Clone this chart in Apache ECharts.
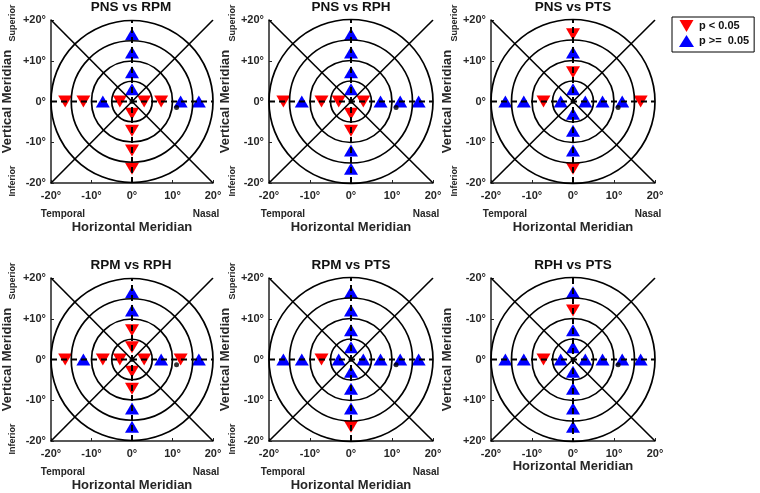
<!DOCTYPE html>
<html><head><meta charset="utf-8">
<script src="https://cdn.jsdelivr.net/npm/echarts@6/dist/echarts.min.js"></script>
<style>html,body{margin:0;padding:0;background:#fff}#c{width:760px;height:493px}</style>
</head><body><div id="c"></div>
<script>
// ---------------- data ----------------
const titles = ['PNS vs RPM', 'PNS vs RPH', 'PNS vs PTS', 'RPM vs RPH', 'RPM vs PTS', 'RPH vs PTS'];
const xPositions = [-16.5, -12, -7.2, -3, 3, 7.2, 12, 16.5];   // horizontal meridian test points
const yPositions = [16.5, 12, 7.2, 3, -3, -7.2, -12, -16.5];   // vertical meridian test points
// 1 = p < 0.05 (red), 0 = p >= 0.05 (blue)
const sigH1 = [1, 1, 0, 1, 1, 1, 0, 0], sigV1 = [0, 0, 0, 0, 1, 1, 1, 1];
const sigH2 = [1, 0, 1, 1, 1, 0, 0, 0], sigV2 = [0, 0, 0, 0, 1, 1, 0, 0];
const sigH3 = [0, 0, 1, 0, 0, 0, 0, 1], sigV3 = [1, 0, 1, 0, 0, 0, 0, 1];
const sigH4 = [1, 0, 1, 1, 1, 0, 1, 0], sigV4 = [0, 0, 1, 1, 1, 1, 0, 0];
const sigH5 = [0, 0, 1, 0, 0, 0, 0, 0], sigV5 = [0, 0, 0, 0, 0, 0, 0, 1];
const sigH6 = [0, 0, 1, 0, 0, 0, 0, 0], sigV6 = [0, 0, 0, 0, 0, 0, 1, 0]; // panel 6 y axis is inverted
const blindSpots = [[11, -1.5], [11, -1.5], [11, -1.5], [11, -1.3], [11, -1.3], [11, 1.3]];
const fixation = [0, 0];
const ringRadii = [5, 10, 15, 20];
const diagA = [[-20, 20], [20, -20]];
const diagB = [[-20, -20], [20, 20]];
const horizMeridian = [[-20, 0], [20, 0]];
const vertMeridian = [[0, -20], [0, 20]];
const sigH = [sigH1, sigH2, sigH3, sigH4, sigH5, sigH6];
const sigV = [sigV1, sigV2, sigV3, sigV4, sigV5, sigV6];
const invertY = [false, false, false, false, false, true];
const showSideLabels = [true, true, true, true, true, false];
const sigName = 'p < 0.05', nsName = 'p >=  0.05';

// ---------------- layout ----------------
const FONT = '"Liberation Sans", Arial, sans-serif';
const colLeft = [49, 269, 491];
const rowTop = [20, 278];
const W = 164, H = 163;
const downTri = 'path://M0,0L10,0L5,8.6Z';

const grids = [], xAxes = [], yAxes = [], series = [], graphics = [];
titles.forEach((t, i) => {
  const L = colLeft[i % 3], T = rowTop[Math.floor(i / 3)];
  grids.push({left: L, top: T, width: W, height: H, show: false});
  const labelStyle = {fontSize: 11, fontWeight: 'bold', color: '#262626', fontFamily: FONT};
  xAxes.push({
    gridIndex: i, type: 'value', min: -20, max: 20, interval: 10,
    axisLine: {show: true, onZero: false, lineStyle: {color: '#222', width: 1.5}},
    axisTick: {show: true, inside: true, length: 3, lineStyle: {color: '#222'}},
    splitLine: {show: false},
    axisLabel: Object.assign({margin: 7, formatter: v => v + '°'}, labelStyle),
    name: 'Horizontal Meridian', nameLocation: 'middle', nameGap: showSideLabels[i] ? 38 : 14,
    nameTextStyle: {fontSize: 13, fontWeight: 'bold', color: '#262626', fontFamily: FONT}
  });
  yAxes.push({
    gridIndex: i, type: 'value', min: -20, max: 20, interval: 10, inverse: invertY[i],
    axisLine: {show: true, onZero: false, lineStyle: {color: '#222', width: 1.5}},
    axisTick: {show: true, inside: true, length: 3, lineStyle: {color: '#222'}},
    splitLine: {show: false},
    axisLabel: Object.assign({margin: 5, formatter: v => (v > 0 ? '+' : '') + v + '°'}, labelStyle),
    name: 'Vertical Meridian', nameLocation: 'middle', nameGap: 37,
    nameTextStyle: {fontSize: 13, fontWeight: 'bold', color: '#262626', fontFamily: FONT}
  });
  const red = [], blue = [];
  xPositions.forEach((x, k) => (sigH[i][k] ? red : blue).push([x, 0]));
  yPositions.forEach((y, k) => (sigV[i][k] ? red : blue).push([0, y]));
  const common = {xAxisIndex: i, yAxisIndex: i, animation: false, silent: true};
  series.push(Object.assign({type: 'scatter', name: sigName, data: red, symbol: downTri,
    symbolSize: [14, 12], itemStyle: {color: '#ff0000', opacity: 1}, z: 2}, common));
  series.push(Object.assign({type: 'scatter', name: nsName, data: blue, symbol: 'triangle',
    symbolSize: [14, 12], itemStyle: {color: '#0000ff', opacity: 1}, z: 2}, common));
  series.push(Object.assign({type: 'custom', clip: false, z: 3,
    data: ringRadii.map(r => [0, 0, r]), encode: {x: 0, y: 1},
    renderItem: (p, api) => {
      const c = api.coord([api.value(0), api.value(1)]);
      const r = api.size([api.value(2), 0])[0];
      return {type: 'circle', shape: {cx: c[0], cy: c[1], r: r},
        style: {fill: null, stroke: '#000', lineWidth: 1.7}};
    }}, common));
  [diagA, diagB].forEach(d => series.push(Object.assign({type: 'line', data: d, symbol: 'none',
    lineStyle: {color: '#000', width: 1.6}, z: 3}, common)));
  [horizMeridian, vertMeridian].forEach(d => series.push(Object.assign({type: 'line', data: d, symbol: 'none',
    lineStyle: {color: '#000', width: 2, type: [6, 4]}, z: 3}, common)));
  series.push(Object.assign({type: 'scatter', data: [fixation, blindSpots[i]], symbol: 'circle',
    symbolSize: 5, itemStyle: {color: '#000'}, z: 4}, common));

  graphics.push({type: 'text', x: L + W / 2, y: T - 13,
    style: {text: t, font: 'bold 13.5px ' + FONT, fill: '#111', align: 'center', verticalAlign: 'middle'}});
  if (showSideLabels[i]) {
    const small = 'bold 9px ' + FONT;
    const mid = 'bold 10px ' + FONT;
    graphics.push({type: 'text', x: L - 36, y: T + 3, rotation: Math.PI / 2,
      style: {text: 'Superior', font: small, fill: '#262626', align: 'center', verticalAlign: 'middle'}});
    graphics.push({type: 'text', x: L - 36, y: T + H - 2, rotation: Math.PI / 2,
      style: {text: 'Inferior', font: small, fill: '#262626', align: 'center', verticalAlign: 'middle'}});
    graphics.push({type: 'text', x: L + 14, y: T + H + 31,
      style: {text: 'Temporal', font: mid, fill: '#262626', align: 'center', verticalAlign: 'middle'}});
    graphics.push({type: 'text', x: L + 157, y: T + H + 31,
      style: {text: 'Nasal', font: mid, fill: '#262626', align: 'center', verticalAlign: 'middle'}});
  }
});

const chart = echarts.init(document.getElementById('c'), null, {renderer: 'canvas'});
chart.setOption({
  backgroundColor: '#fff',
  animation: false,
  grid: grids, xAxis: xAxes, yAxis: yAxes, series: series,
  graphic: graphics,
  legend: {
    left: 672, top: 17, orient: 'vertical',
    data: [{name: sigName, icon: downTri}, {name: nsName, icon: 'triangle'}],
    itemWidth: 15, itemHeight: 12, itemGap: 3, padding: [3, 5, 5, 7],
    borderColor: '#000', borderWidth: 1, selectedMode: false,
    textStyle: {fontSize: 11, fontWeight: 'bold', color: '#111', fontFamily: FONT}
  }
});
</script></body></html>
